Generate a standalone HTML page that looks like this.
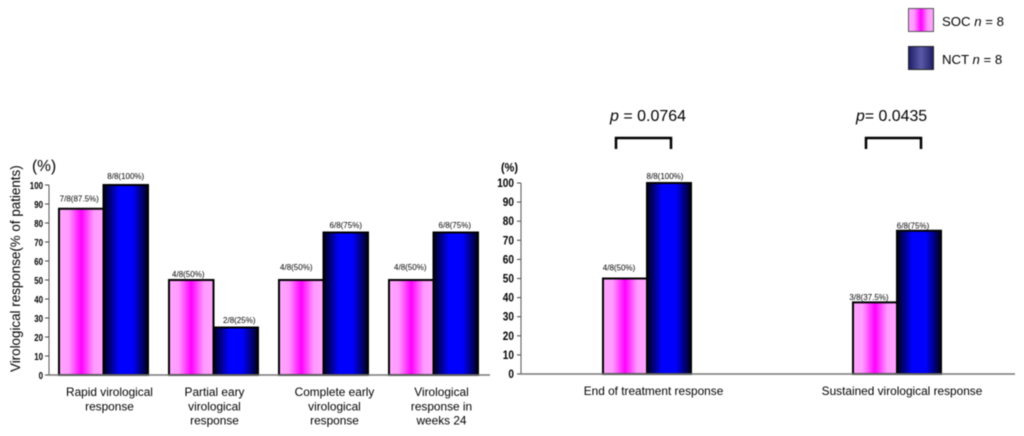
<!DOCTYPE html>
<html lang="en">
<head>
<meta charset="utf-8">
<title>Virological response chart</title>
<style>
html,body{margin:0;padding:0;background:#fff;width:1024px;height:436px;overflow:hidden}
svg{display:block;font-family:"Liberation Sans",Arial,sans-serif;filter:blur(0.4px)}
</style>
</head>
<body>
<svg id="chart" xmlns="http://www.w3.org/2000/svg" width="1024" height="436" viewBox="0 0 1024 436">
<defs>
<linearGradient id="pink"><stop offset="0" stop-color="#ffa6ff"/><stop offset="0.22" stop-color="#ff99ff"/><stop offset="0.5" stop-color="#ff00ff"/><stop offset="0.78" stop-color="#ff99ff"/><stop offset="1" stop-color="#ffa6ff"/></linearGradient>
<linearGradient id="blue"><stop offset="0" stop-color="#000018"/><stop offset="0.35" stop-color="#0000ff"/><stop offset="0.65" stop-color="#0000ff"/><stop offset="1" stop-color="#000018"/></linearGradient>
<linearGradient id="navy"><stop offset="0" stop-color="#1c1c66"/><stop offset="0.5" stop-color="#5a5aa8"/><stop offset="1" stop-color="#1c1c66"/></linearGradient>
</defs>
<g>
<rect x="908.5" y="8.5" width="25" height="23" fill="url(#pink)" stroke="#555" stroke-width="1"/>
<text x="942" y="26" font-size="13.2" fill="#000">SOC <tspan font-style="italic">n</tspan> = 8</text>
<rect x="908.5" y="46.5" width="25" height="23" fill="url(#navy)" stroke="#222" stroke-width="1"/>
<text x="942" y="64" font-size="13.2" fill="#000">NCT <tspan font-style="italic">n</tspan> = 8</text>
</g>
<text transform="translate(20,372) rotate(-90)" font-size="13.4" fill="#000">Virological response(% of patients)</text>
<text x="32" y="171" font-size="15.5" fill="#000">(%)</text>
<text x="501" y="171.5" font-size="11.5" font-weight="bold" fill="#000" textLength="17" lengthAdjust="spacingAndGlyphs">(%)</text>
<text x="610" y="121" font-size="16" fill="#000"><tspan font-style="italic">p</tspan> = 0.0764</text>
<path d="M616 149V138H671V149" fill="none" stroke="#000" stroke-width="2.5"/>
<text x="856" y="121" font-size="15.9" fill="#000"><tspan font-style="italic">p</tspan>= 0.0435</text>
<path d="M866 149V138H921V149" fill="none" stroke="#000" stroke-width="2.5"/>
<g id="plot"></g>
</svg>
<script>
var ticks = [0, 10, 20, 30, 40, 50, 60, 70, 80, 90, 100];
var leftCategories = [["Rapid virological", "response"], ["Partial eary", "virological", "response"], ["Complete early", "virological", "response"], ["Virological", "response  in", "weeks 24"]];
var leftSoc = [87.5, 50, 50, 50];
var leftNct = [100, 25, 75, 75];
var leftSocLabels = ["7/8(87.5%)", "4/8(50%)", "4/8(50%)", "4/8(50%)"];
var leftNctLabels = ["8/8(100%)", "2/8(25%)", "6/8(75%)", "6/8(75%)"];
var rightCategories = [["End of treatment response"], ["Sustained virological response"]];
var rightSoc = [50, 37.5];
var rightNct = [100, 75];
var rightSocLabels = ["4/8(50%)", "3/8(37.5%)"];
var rightNctLabels = ["8/8(100%)", "6/8(75%)"];

var NS = 'http://www.w3.org/2000/svg';
var plot = document.getElementById('plot');
function mk(tag, attrs, text) {
  var e = document.createElementNS(NS, tag);
  for (var k in attrs) e.setAttribute(k, attrs[k]);
  if (text !== undefined) { e.setAttribute('xml:space', 'preserve'); e.textContent = text; }
  plot.appendChild(e);
  return e;
}
function drawPanel(cfg) {
  function y(v) { return cfg.y0 - v / 100 * (cfg.y0 - cfg.y100); }
  var el;
  ticks.forEach(function (t) {
    el = mk('line', {x1: cfg.x0 - 4, x2: cfg.x0, y1: y(t), y2: y(t), stroke: '#444', 'stroke-width': 1});
    
    
    var s = String(t);
    el = mk('text', {x: cfg.x0 - cfg.tickGap, y: y(t) + 4, 'font-size': cfg.tickSize, 'font-weight': 'bold', 'text-anchor': 'end', fill: '#000', textLength: s.length * cfg.tickW, lengthAdjust: 'spacingAndGlyphs'}, s);
    
    
  });
  cfg.cats.forEach(function (lines, i) {
    var left = cfg.groupX(i), w = cfg.barW, o = cfg.nudge[i];
    el = mk('rect', {x: left, y: y(cfg.soc[i]), width: w, height: y(0) - y(cfg.soc[i]), fill: 'url(#pink)', stroke: '#000', 'stroke-width': 2});
    
    
    el = mk('rect', {x: left + w, y: y(cfg.nct[i]), width: w, height: y(0) - y(cfg.nct[i]), fill: 'url(#blue)', stroke: '#000', 'stroke-width': 2});
    
    
    el = mk('text', {x: left + w / 2 + o.sx, y: y(cfg.soc[i]) - o.sg, 'font-size': 8, 'text-anchor': 'middle', fill: '#000'}, cfg.socLabels[i]);
    
    
    el = mk('text', {x: left + 1.5 * w + o.nx, y: y(cfg.nct[i]) - o.ng, 'font-size': 8, 'text-anchor': 'middle', fill: '#000'}, cfg.nctLabels[i]);
    
    
    lines.forEach(function (line, j) {
      el = mk('text', {x: left + w + o.cx, y: cfg.catY + j * 14.3, 'font-size': 11.85, 'text-anchor': 'middle', fill: '#000'}, line);
      
      
    });
  });
  el = mk('line', {x1: cfg.x0, x2: cfg.x0, y1: cfg.y100, y2: cfg.y0, stroke: '#555', 'stroke-width': 1});
  
  
  el = mk('line', {x1: cfg.x0 - 2, x2: cfg.x1, y1: cfg.y0, y2: cfg.y0, stroke: '#777', 'stroke-width': 1.4});
  
  
}
drawPanel({
  x0: 49, x1: 490, y0: 375, y100: 185, barW: 44.5, tickSize: 10, tickW: 4.4, tickGap: 6, catY: 396,
  groupX: function (i) { return 59 + i * 110; },
  nudge: [
    {sx: -2, sg: 7.5, nx: 0, ng: 6, cx: 6},
    {sx: -3, sg: 3, nx: 3.5, ng: 4.5, cx: 1},
    {sx: -5, sg: 10, nx: 0, ng: 4.5, cx: 11},
    {sx: -1, sg: 10, nx: -1, ng: 4.5, cx: 8}
  ],
  cats: leftCategories, soc: leftSoc, nct: leftNct, socLabels: leftSocLabels, nctLabels: leftNctLabels
});
drawPanel({
  x0: 521, x1: 1015, y0: 374, y100: 183, barW: 44, tickSize: 11.5, tickW: 5.6, tickGap: 7, catY: 395,
  groupX: function (i) { return 603 + i * 250; },
  nudge: [
    {sx: -6, sg: 8, nx: -4, ng: 4, cx: 6.5},
    {sx: -6, sg: 2.5, nx: -6, ng: 2.5, cx: 5}
  ],
  cats: rightCategories, soc: rightSoc, nct: rightNct, socLabels: rightSocLabels, nctLabels: rightNctLabels
});
</script>
</body>
</html>
